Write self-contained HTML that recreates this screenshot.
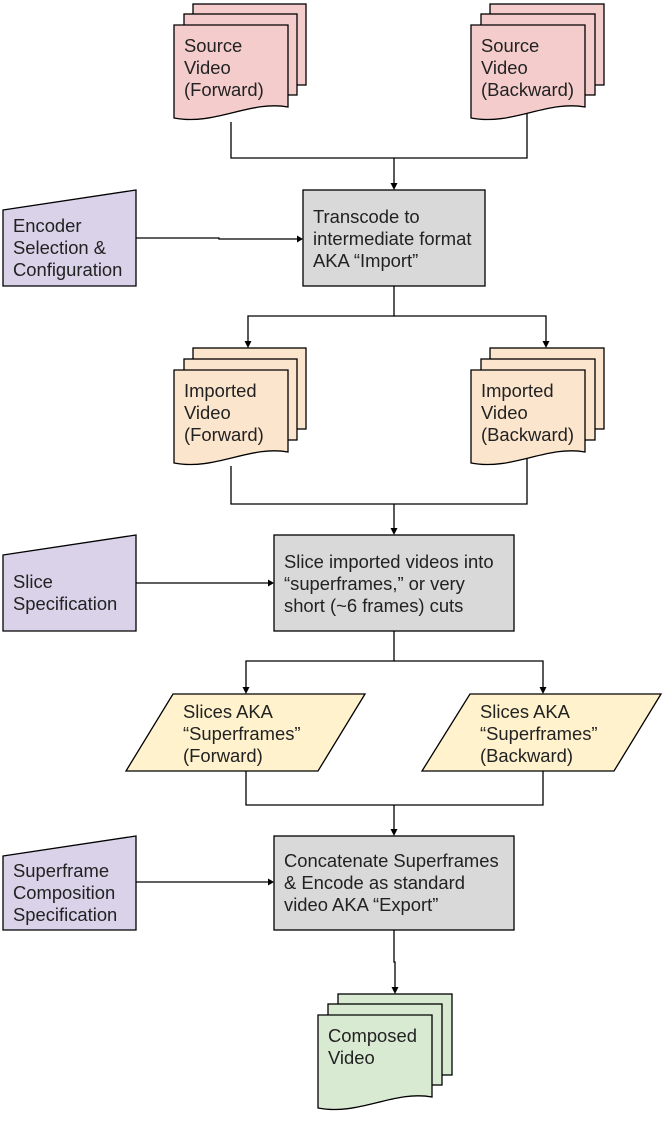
<!DOCTYPE html>
<html><head><meta charset="utf-8"><style>
html,body{margin:0;padding:0;background:#fff}
svg{display:block}
text{font-family:"Liberation Sans",Arial,sans-serif;font-size:18.4px;fill:#222}
</style></head><body>
<svg width="667" height="1122" viewBox="0 0 667 1122" xmlns="http://www.w3.org/2000/svg">
<g stroke="#000" stroke-width="1.3" fill="none">
<path d="M231,122 V158 H527 V106"/>
<path d="M394,158 V186"/>
<path d="M136,238 H219 V239 H299" />
<path d="M394,286 V316 H248 V344"/>
<path d="M394,316 H546 V344"/>
<path d="M231,466 V504 H527 V452"/>
<path d="M394,504 V531"/>
<path d="M136,583 H270"/>
<path d="M394,631 V661 H246 V690"/>
<path d="M394,661 H543 V690"/>
<path d="M246,771 V805 H543 V771"/>
<path d="M394,805 V832"/>
<path d="M136,882 H270"/>
<path d="M394,930 V962 H395 V990"/>
</g>
<g fill="#000">
<path d="M390.5,183 L397.5,183 L394,190 Z"/>
<path d="M297,235.5 L303,239 L297,242.5 Z"/>
<path d="M244.5,341 L251.5,341 L248,348 Z"/>
<path d="M542.5,341 L549.5,341 L546,348 Z"/>
<path d="M390.5,528 L397.5,528 L394,535 Z"/>
<path d="M268,579.5 L274,583 L268,586.5 Z"/>
<path d="M242.5,687 L249.5,687 L246,694 Z"/>
<path d="M539.5,687 L546.5,687 L543,694 Z"/>
<path d="M390.5,829 L397.5,829 L394,836 Z"/>
<path d="M268,878.5 L274,882 L268,885.5 Z"/>
<path d="M391.5,987 L398.5,987 L395,994 Z"/>
</g>
<g stroke="#000" stroke-width="1.3">
<g fill="#f4cccc">
<rect x="193" y="4" width="113" height="81"/>
<rect x="184" y="14" width="113" height="81"/>
<path d="M174,25 H288 V107 C250,100 215,126 174,118 Z"/>
<rect x="490" y="4" width="114" height="81"/>
<rect x="481" y="14" width="114" height="81"/>
<path d="M471,25 H585 V107 C547,100 512,126 471,118 Z"/>
</g>
<g fill="#fce5cd">
<rect x="193" y="348" width="113" height="81"/>
<rect x="184" y="359" width="113" height="81"/>
<path d="M174,370 H288 V452 C250,445 215,471 174,463 Z"/>
<rect x="490" y="348" width="114" height="81"/>
<rect x="481" y="359" width="114" height="81"/>
<path d="M471,370 H585 V452 C547,445 512,471 471,463 Z"/>
</g>
<g fill="#d9ead3">
<rect x="338" y="994" width="114" height="81"/>
<rect x="328" y="1004" width="114" height="81"/>
<path d="M318,1015 H432 V1097 C394,1090 359,1116 318,1108 Z"/>
</g>
<g fill="#d9d9d9">
<rect x="303" y="190" width="182" height="96"/>
<rect x="274" y="535" width="240" height="96"/>
<rect x="274" y="836" width="240" height="94"/>
</g>
<g fill="#d9d2e9">
<path d="M3,210 L136,190 V286 H3 Z"/>
<path d="M3,555 L136,535 V631 H3 Z"/>
<path d="M3,856 L136,836 V930 H3 Z"/>
</g>
<g fill="#fff2cc">
<path d="M173,694 H365 L318,771 H126 Z"/>
<path d="M470,694 H661 L614,771 H422 Z"/>
</g>
</g>
<text x="184" y="52">Source</text><text x="184" y="74">Video</text><text x="184" y="96">(Forward)</text>
<text x="481" y="52">Source</text><text x="481" y="74">Video</text><text x="481" y="96">(Backward)</text>
<text x="13" y="232">Encoder</text><text x="13" y="254">Selection &amp;</text><text x="13" y="276">Configuration</text>
<text x="313" y="223">Transcode to</text><text x="313" y="245">intermediate format</text><text x="313" y="267">AKA “Import”</text>
<text x="184" y="397">Imported</text><text x="184" y="419">Video</text><text x="184" y="441">(Forward)</text>
<text x="481" y="397">Imported</text><text x="481" y="419">Video</text><text x="481" y="441">(Backward)</text>
<text x="13" y="588">Slice</text><text x="13" y="610">Specification</text>
<text x="284" y="568">Slice imported videos into</text><text x="284" y="590">“superframes,” or very</text><text x="284" y="612">short (~6 frames) cuts</text>
<text x="183" y="718">Slices AKA</text><text x="183" y="740">“Superframes”</text><text x="183" y="762">(Forward)</text>
<text x="480" y="718">Slices AKA</text><text x="480" y="740">“Superframes”</text><text x="480" y="762">(Backward)</text>
<text x="13" y="877">Superframe</text><text x="13" y="899">Composition</text><text x="13" y="921">Specification</text>
<text x="284" y="867">Concatenate Superframes</text><text x="284" y="889">&amp; Encode as standard</text><text x="284" y="911">video AKA “Export”</text>
<text x="328" y="1042">Composed</text><text x="328" y="1064">Video</text>
</svg>
</body></html>
